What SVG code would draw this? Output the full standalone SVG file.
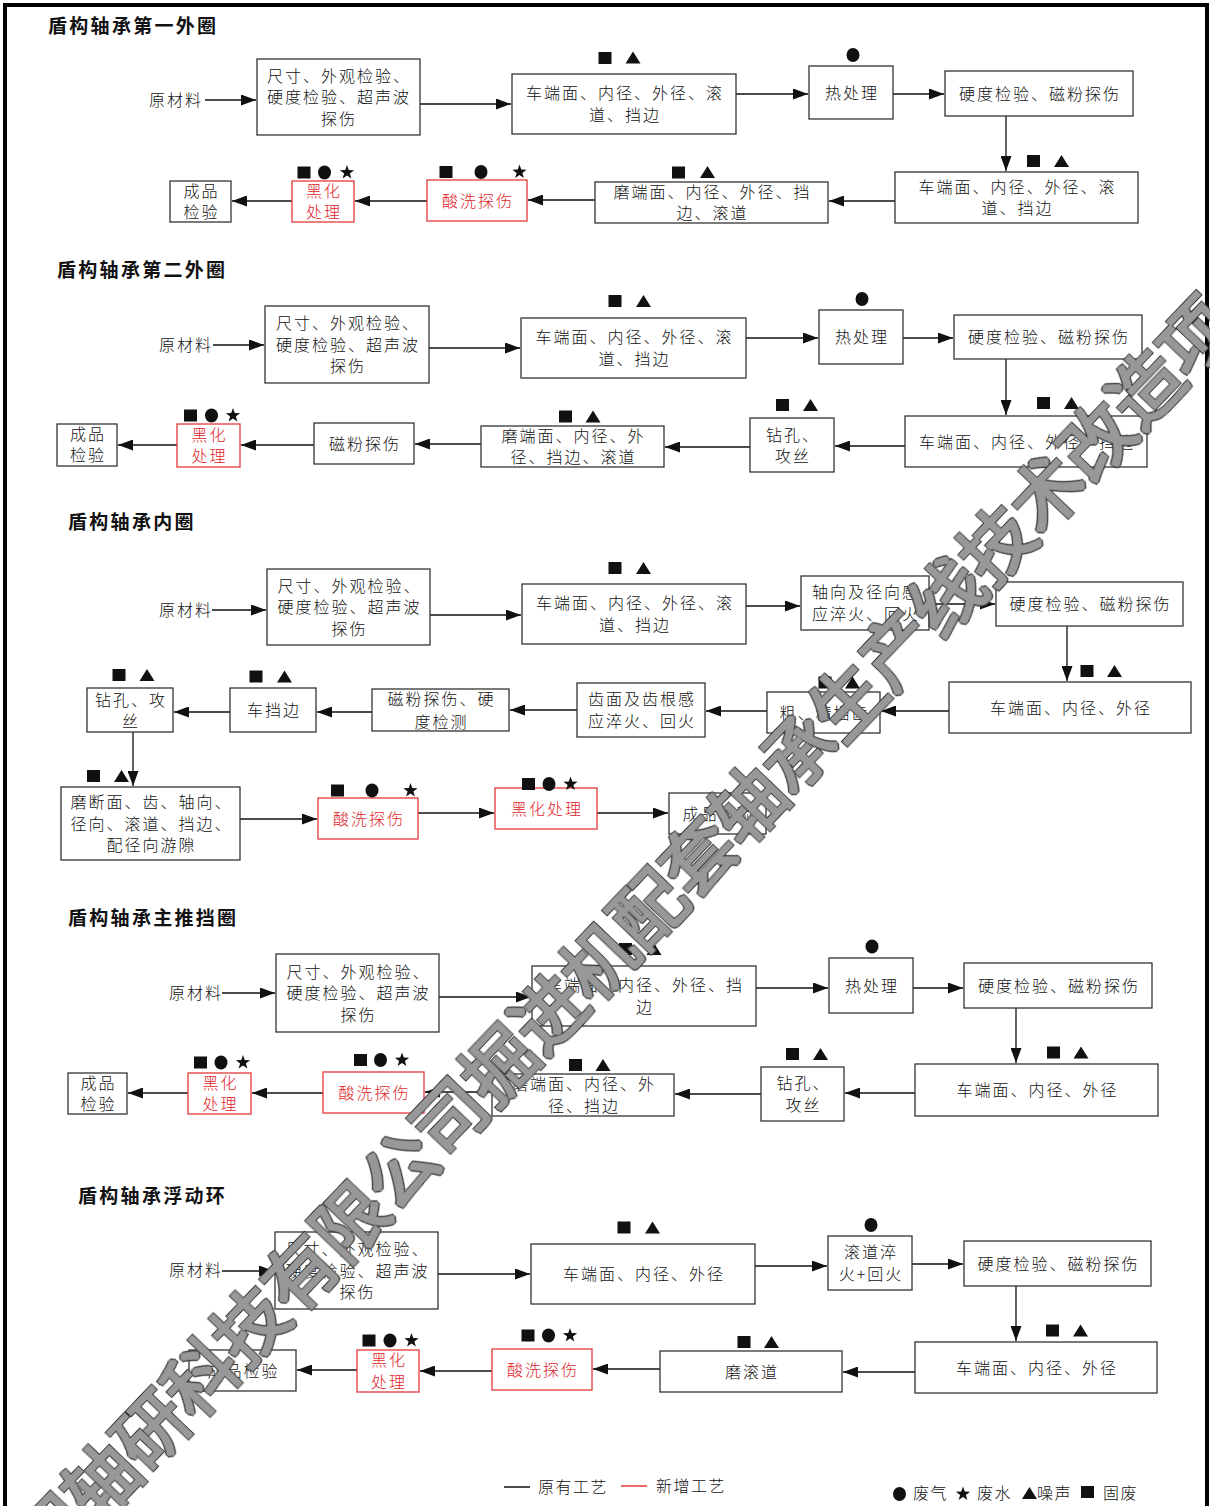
<svg xmlns="http://www.w3.org/2000/svg" width="1210" height="1506" viewBox="0 0 1210 1506">
<style>
.bx{fill:#fff;stroke:#333;stroke-width:1.3}
.rb{fill:#fff;stroke:#e23a3a;stroke-width:1.3}
.t{font-family:"Noto Sans CJK SC",sans-serif;font-size:16px;font-weight:300;letter-spacing:2px;text-anchor:middle;fill:#111}
.rt{fill:#e0252b}
.lb{font-family:"Noto Sans CJK SC",sans-serif;font-size:16px;font-weight:300;letter-spacing:1.5px;fill:#111}
.ti{font-family:"Noto Sans CJK SC",sans-serif;font-size:19px;font-weight:bold;letter-spacing:2.3px;fill:#111}
.c{stroke:#111;stroke-width:1.3;fill:none;marker-end:url(#ah)}
.wm{font-family:"Noto Sans CJK SC",sans-serif;font-size:72px;font-weight:normal;fill:#989898}
</style>
<defs>
<marker id="ah" markerUnits="userSpaceOnUse" markerWidth="15" markerHeight="11" refX="15" refY="5.5" orient="auto"><path d="M0,0 L15,5.5 L0,11 z" fill="#111"/></marker>
<rect id="sq" x="-6.5" y="-6" width="13" height="12" fill="#111"/>
<polygon id="tr" points="0,-6 7.5,6 -7.5,6" fill="#111"/>
<ellipse id="ci" cx="0" cy="0" rx="6.5" ry="7" fill="#111"/>
<polygon id="st" points="0,-7.5 1.76,-2.43 7.13,-2.32 2.85,0.93 4.41,6.07 0,3 -4.41,6.07 -2.85,0.93 -7.13,-2.32 -1.76,-2.43" fill="#111"/>
<filter id="wmf" x="-2%" y="-30%" width="104%" height="160%">
<feMorphology in="SourceAlpha" operator="dilate" radius="2.0" result="o"/>
<feFlood flood-color="#333" result="dk"/>
<feComposite in="dk" in2="o" operator="in" result="outl"/>
<feMorphology in="SourceGraphic" operator="dilate" radius="1.3" result="g"/>
<feMerge><feMergeNode in="outl"/><feMergeNode in="g"/></feMerge>
</filter>
</defs>
<rect width="1210" height="1506" fill="#fff"/>
<rect x="5" y="5" width="1202" height="1600" fill="none" stroke="#000" stroke-width="4"/>

<g id="titles">
<text class="ti" x="48" y="33">盾构轴承第一外圈</text>
<text class="ti" x="57" y="277">盾构轴承第二外圈</text>
<text class="ti" x="68" y="529">盾构轴承内圈</text>
<text class="ti" x="68" y="925">盾构轴承主推挡圈</text>
<text class="ti" x="78" y="1203">盾构轴承浮动环</text>
</g>

<g id="connectors">
<line class="c" x1="205" y1="100" x2="256" y2="100"/>
<line class="c" x1="420" y1="104" x2="511" y2="104"/>
<line class="c" x1="736" y1="94" x2="808" y2="94"/>
<line class="c" x1="893" y1="94" x2="944" y2="94"/>
<line class="c" x1="1006" y1="116" x2="1006" y2="171"/>
<line class="c" x1="895" y1="201" x2="829" y2="201"/>
<line class="c" x1="595" y1="200" x2="528" y2="200"/>
<line class="c" x1="427" y1="201" x2="355" y2="201"/>
<line class="c" x1="292" y1="201" x2="232" y2="201"/>

<line class="c" x1="213" y1="345" x2="264" y2="345"/>
<line class="c" x1="429" y1="348" x2="520" y2="348"/>
<line class="c" x1="746" y1="338" x2="818" y2="338"/>
<line class="c" x1="903" y1="338" x2="953" y2="338"/>
<line class="c" x1="1006" y1="359" x2="1006" y2="415"/>
<line class="c" x1="905" y1="446" x2="835" y2="446"/>
<line class="c" x1="750" y1="447" x2="665" y2="447"/>
<line class="c" x1="481" y1="444" x2="415" y2="444"/>
<line class="c" x1="314" y1="445" x2="241" y2="445"/>
<line class="c" x1="177" y1="445" x2="118" y2="445"/>

<line class="c" x1="212" y1="610" x2="266" y2="610"/>
<line class="c" x1="430" y1="615" x2="521" y2="615"/>
<line class="c" x1="746" y1="606" x2="800" y2="606"/>
<line class="c" x1="929" y1="604" x2="995" y2="604"/>
<line class="c" x1="1067" y1="626" x2="1067" y2="681"/>
<line class="c" x1="949" y1="711" x2="881" y2="711"/>
<line class="c" x1="767" y1="711" x2="706" y2="711"/>
<line class="c" x1="577" y1="710" x2="510" y2="710"/>
<line class="c" x1="372" y1="712" x2="317" y2="712"/>
<line class="c" x1="230" y1="712" x2="174" y2="712"/>
<line class="c" x1="133" y1="732" x2="133" y2="786"/>
<line class="c" x1="240" y1="819" x2="317" y2="819"/>
<line class="c" x1="418" y1="813" x2="494" y2="813"/>
<line class="c" x1="597" y1="813" x2="668" y2="813"/>

<line class="c" x1="222" y1="993" x2="275" y2="993"/>
<line class="c" x1="439" y1="997" x2="531" y2="997"/>
<line class="c" x1="756" y1="988" x2="828" y2="988"/>
<line class="c" x1="913" y1="988" x2="963" y2="988"/>
<line class="c" x1="1016" y1="1008" x2="1016" y2="1063"/>
<line class="c" x1="915" y1="1093" x2="845" y2="1093"/>
<line class="c" x1="761" y1="1094" x2="675" y2="1094"/>
<line class="c" x1="492" y1="1092" x2="425" y2="1092"/>
<line class="c" x1="323" y1="1093" x2="252" y2="1093"/>
<line class="c" x1="188" y1="1093" x2="128" y2="1093"/>

<line class="c" x1="222" y1="1271" x2="274" y2="1271"/>
<line class="c" x1="438" y1="1274" x2="530" y2="1274"/>
<line class="c" x1="755" y1="1266" x2="827" y2="1266"/>
<line class="c" x1="912" y1="1264" x2="963" y2="1264"/>
<line class="c" x1="1016" y1="1286" x2="1016" y2="1341"/>
<line class="c" x1="915" y1="1372" x2="843" y2="1372"/>
<line class="c" x1="660" y1="1369" x2="593" y2="1369"/>
<line class="c" x1="492" y1="1371" x2="420" y2="1371"/>
<line class="c" x1="357" y1="1370" x2="297" y2="1370"/>
</g>

<!-- Section 1 -->
<g id="s1-raw"><text class="t" x="176" y="106">原材料</text></g>
<g id="s1-b1"><rect class="bx" x="257" y="59" width="163" height="76"/><text class="t" x="339" y="81.5">尺寸、外观检验、</text><text class="t" x="339" y="103">硬度检验、超声波</text><text class="t" x="339" y="124.5">探伤</text></g>
<g id="s1-b2"><rect class="bx" x="512" y="74" width="224" height="60"/><text class="t" x="625" y="99">车端面、内径、外径、滚</text><text class="t" x="625" y="121">道、挡边</text>
<use href="#sq" x="605" y="58"/><use href="#tr" x="633" y="57.5"/></g>
<g id="s1-b3"><rect class="bx" x="809" y="66" width="84" height="53"/><text class="t" x="852" y="98.5">热处理</text><use href="#ci" x="853" y="55"/></g>
<g id="s1-b4"><rect class="bx" x="945" y="71" width="188" height="45"/><text class="t" x="1040" y="99.5">硬度检验、磁粉探伤</text></g>
<g id="s1-b5"><rect class="bx" x="895" y="172" width="243" height="51"/><text class="t" x="1017.5" y="193">车端面、内径、外径、滚</text><text class="t" x="1017.5" y="214">道、挡边</text>
<use href="#sq" x="1033.5" y="161"/><use href="#tr" x="1061.5" y="161"/></g>
<g id="s1-b6"><rect class="bx" x="595" y="182" width="233" height="41"/><text class="t" x="712.5" y="198">磨端面、内径、外径、挡</text><text class="t" x="712.5" y="219">边、滚道</text>
<use href="#sq" x="678.5" y="172.5"/><use href="#tr" x="707.5" y="172"/></g>
<g id="s1-b7"><rect class="rb" x="427" y="180" width="100" height="41"/><text class="t rt" x="478" y="206.5">酸洗探伤</text>
<use href="#sq" x="446" y="172"/><use href="#ci" x="481" y="172"/><use href="#st" x="519.5" y="172"/></g>
<g id="s1-b8"><rect class="rb" x="292" y="181" width="62" height="41"/><text class="t rt" x="324" y="197">黑化</text><text class="t rt" x="324" y="218">处理</text>
<use href="#sq" x="304" y="172.5"/><use href="#ci" x="324.5" y="172.5"/><use href="#st" x="347" y="172.5"/></g>
<g id="s1-b9"><rect class="bx" x="170" y="181" width="61" height="41"/><text class="t" x="201.5" y="197">成品</text><text class="t" x="201.5" y="218">检验</text></g>

<!-- Section 2 -->
<g id="s2-raw"><text class="t" x="186" y="351">原材料</text></g>
<g id="s2-b1"><rect class="bx" x="265" y="306" width="164" height="77"/><text class="t" x="348" y="329">尺寸、外观检验、</text><text class="t" x="348" y="350.5">硬度检验、超声波</text><text class="t" x="348" y="372">探伤</text></g>
<g id="s2-b2"><rect class="bx" x="521" y="318" width="225" height="60"/><text class="t" x="634.5" y="343">车端面、内径、外径、滚</text><text class="t" x="634.5" y="365">道、挡边</text>
<use href="#sq" x="615" y="301"/><use href="#tr" x="643.5" y="301"/></g>
<g id="s2-b3"><rect class="bx" x="819" y="310" width="84" height="54"/><text class="t" x="862" y="343">热处理</text><use href="#ci" x="862" y="299"/></g>
<g id="s2-b4"><rect class="bx" x="954" y="315" width="188" height="44"/><text class="t" x="1049" y="343">硬度检验、磁粉探伤</text></g>
<g id="s2-b5"><rect class="bx" x="905" y="416" width="242" height="51"/><text class="t" x="1027" y="447.5">车端面、内径、外径、挡边</text>
<use href="#sq" x="1043.5" y="403"/><use href="#tr" x="1071.5" y="403"/></g>
<g id="s2-b6"><rect class="bx" x="750" y="418" width="84" height="54"/><text class="t" x="793" y="441">钻孔、</text><text class="t" x="793" y="462">攻丝</text>
<use href="#sq" x="782.5" y="405"/><use href="#tr" x="810.5" y="405"/></g>
<g id="s2-b7"><rect class="bx" x="481" y="426" width="183" height="41"/><text class="t" x="573.5" y="442">磨端面、内径、外</text><text class="t" x="573.5" y="463">径、挡边、滚道</text>
<use href="#sq" x="565.5" y="416.5"/><use href="#tr" x="593" y="416.5"/></g>
<g id="s2-b8"><rect class="bx" x="314" y="423" width="100" height="41"/><text class="t" x="365" y="449.5">磁粉探伤</text></g>
<g id="s2-b9"><rect class="rb" x="177" y="424" width="63" height="43"/><text class="t rt" x="209.5" y="441">黑化</text><text class="t rt" x="209.5" y="462">处理</text>
<use href="#sq" x="190.5" y="415.5"/><use href="#ci" x="211.5" y="415.5"/><use href="#st" x="233" y="415.5"/></g>
<g id="s2-b10"><rect class="bx" x="57" y="424" width="60" height="42"/><text class="t" x="88" y="440">成品</text><text class="t" x="88" y="461">检验</text></g>

<!-- Section 3 -->
<g id="s3-raw"><text class="t" x="186" y="616">原材料</text></g>
<g id="s3-b1"><rect class="bx" x="267" y="569" width="163" height="76"/><text class="t" x="349.5" y="591.5">尺寸、外观检验、</text><text class="t" x="349.5" y="613">硬度检验、超声波</text><text class="t" x="349.5" y="634.5">探伤</text></g>
<g id="s3-b2"><rect class="bx" x="522" y="584" width="224" height="60"/><text class="t" x="635" y="609">车端面、内径、外径、滚</text><text class="t" x="635" y="631">道、挡边</text>
<use href="#sq" x="615" y="568"/><use href="#tr" x="643.5" y="568"/></g>
<g id="s3-b3"><rect class="bx" x="801" y="576" width="128" height="54"/><text class="t" x="866" y="598">轴向及径向感</text><text class="t" x="866" y="620">应淬火、回火</text></g>
<g id="s3-b4"><rect class="bx" x="996" y="582" width="187" height="44"/><text class="t" x="1090.5" y="610">硬度检验、磁粉探伤</text></g>
<g id="s3-b5"><rect class="bx" x="949" y="682" width="242" height="51"/><text class="t" x="1071" y="713.5">车端面、内径、外径</text>
<use href="#sq" x="1087" y="671"/><use href="#tr" x="1114.5" y="671"/></g>
<g id="s3-b6"><rect class="bx" x="767" y="692" width="113" height="41"/><text class="t" x="824.5" y="718.5">粗、精插齿</text>
<use href="#sq" x="825" y="682.5"/><use href="#tr" x="852.5" y="682.5"/></g>
<g id="s3-b7"><rect class="bx" x="577" y="683" width="128" height="54"/><text class="t" x="642" y="705">齿面及齿根感</text><text class="t" x="642" y="727">应淬火、回火</text></g>
<g id="s3-b8"><rect class="bx" x="372" y="689" width="137" height="42"/><text class="t" x="441.5" y="704.5">磁粉探伤、硬</text><text class="t" x="441.5" y="727.5">度检测</text></g>
<g id="s3-b9"><rect class="bx" x="230" y="688" width="86" height="44"/><text class="t" x="274" y="716">车挡边</text>
<use href="#sq" x="256" y="676.5"/><use href="#tr" x="284.5" y="676.5"/></g>
<g id="s3-b10"><rect class="bx" x="87" y="688" width="86" height="44"/><text class="t" x="131" y="706">钻孔、攻</text><text class="t" x="131" y="727">丝</text>
<use href="#sq" x="119" y="675"/><use href="#tr" x="147" y="675"/></g>
<g id="s3-b11"><rect class="bx" x="61" y="787" width="179" height="73"/><text class="t" x="151.5" y="808">磨断面、齿、轴向、</text><text class="t" x="151.5" y="829.5">径向、滚道、挡边、</text><text class="t" x="151.5" y="851">配径向游隙</text>
<use href="#sq" x="93.5" y="776"/><use href="#tr" x="121.5" y="776"/></g>
<g id="s3-b12"><rect class="rb" x="318" y="798" width="100" height="41"/><text class="t rt" x="369" y="824.5">酸洗探伤</text>
<use href="#sq" x="337.5" y="790.5"/><use href="#ci" x="372" y="790.5"/><use href="#st" x="410.5" y="790.5"/></g>
<g id="s3-b13"><rect class="rb" x="495" y="788" width="102" height="41"/><text class="t rt" x="547" y="814.5">黑化处理</text>
<use href="#sq" x="528.5" y="784"/><use href="#ci" x="549" y="784"/><use href="#st" x="570.5" y="784"/></g>
<g id="s3-b14"><rect class="bx" x="669" y="793" width="97" height="41"/><text class="t" x="718.5" y="819.5">成品检验</text></g>

<!-- Section 4 -->
<g id="s4-raw"><text class="t" x="196" y="999">原材料</text></g>
<g id="s4-b1"><rect class="bx" x="276" y="954" width="163" height="78"/><text class="t" x="358.5" y="977.5">尺寸、外观检验、</text><text class="t" x="358.5" y="999">硬度检验、超声波</text><text class="t" x="358.5" y="1020.5">探伤</text></g>
<g id="s4-b2"><rect class="bx" x="532" y="966" width="224" height="60"/><text class="t" x="645" y="991">车端面、内径、外径、挡</text><text class="t" x="645" y="1013">边</text>
<use href="#sq" x="625.5" y="949"/><use href="#tr" x="654" y="949"/></g>
<g id="s4-b3"><rect class="bx" x="829" y="958" width="84" height="55"/><text class="t" x="872" y="991.5">热处理</text><use href="#ci" x="872" y="946.5"/></g>
<g id="s4-b4"><rect class="bx" x="964" y="963" width="188" height="45"/><text class="t" x="1059" y="991.5">硬度检验、磁粉探伤</text></g>
<g id="s4-b5"><rect class="bx" x="915" y="1064" width="243" height="52"/><text class="t" x="1037.5" y="1096">车端面、内径、外径</text>
<use href="#sq" x="1053.5" y="1052.5"/><use href="#tr" x="1081" y="1052.5"/></g>
<g id="s4-b6"><rect class="bx" x="761" y="1067" width="83" height="54"/><text class="t" x="803.5" y="1089">钻孔、</text><text class="t" x="803.5" y="1111">攻丝</text>
<use href="#sq" x="792.5" y="1054"/><use href="#tr" x="820.5" y="1054"/></g>
<g id="s4-b7"><rect class="bx" x="492" y="1074" width="182" height="42"/><text class="t" x="584" y="1090">磨端面、内径、外</text><text class="t" x="584" y="1112">径、挡边</text>
<use href="#sq" x="575.5" y="1065"/><use href="#tr" x="603" y="1065"/></g>
<g id="s4-b8"><rect class="rb" x="323" y="1072" width="101" height="41"/><text class="t rt" x="374.5" y="1098.5">酸洗探伤</text>
<use href="#sq" x="360.5" y="1060"/><use href="#ci" x="380.5" y="1060"/><use href="#st" x="402" y="1060"/></g>
<g id="s4-b9"><rect class="rb" x="188" y="1073" width="63" height="41"/><text class="t rt" x="220.5" y="1089">黑化</text><text class="t rt" x="220.5" y="1110">处理</text>
<use href="#sq" x="200.5" y="1062.5"/><use href="#ci" x="221" y="1062.5"/><use href="#st" x="243" y="1062.5"/></g>
<g id="s4-b10"><rect class="bx" x="68" y="1073" width="59" height="41"/><text class="t" x="98.5" y="1089">成品</text><text class="t" x="98.5" y="1110">检验</text></g>

<!-- Section 5 -->
<g id="s5-raw"><text class="t" x="196" y="1276">原材料</text></g>
<g id="s5-b1"><rect class="bx" x="275" y="1232" width="163" height="77"/><text class="t" x="357.5" y="1255">尺寸、外观检验、</text><text class="t" x="357.5" y="1276.5">硬度检验、超声波</text><text class="t" x="357.5" y="1298">探伤</text></g>
<g id="s5-b2"><rect class="bx" x="531" y="1244" width="224" height="60"/><text class="t" x="644" y="1280">车端面、内径、外径</text>
<use href="#sq" x="624" y="1227.5"/><use href="#tr" x="652.5" y="1227.5"/></g>
<g id="s5-b3"><rect class="bx" x="828" y="1236" width="84" height="54"/><text class="t" x="871" y="1258">滚道淬</text><text class="t" x="871" y="1280">火+回火</text><use href="#ci" x="871" y="1225"/></g>
<g id="s5-b4"><rect class="bx" x="964" y="1241" width="187" height="45"/><text class="t" x="1058.5" y="1269.5">硬度检验、磁粉探伤</text></g>
<g id="s5-b5"><rect class="bx" x="915" y="1342" width="242" height="51"/><text class="t" x="1037" y="1373.5">车端面、内径、外径</text>
<use href="#sq" x="1052.5" y="1330.5"/><use href="#tr" x="1080.5" y="1330.5"/></g>
<g id="s5-b6"><rect class="bx" x="660" y="1351" width="182" height="41"/><text class="t" x="752" y="1377.5">磨滚道</text>
<use href="#sq" x="744" y="1342"/><use href="#tr" x="771.5" y="1342"/></g>
<g id="s5-b7"><rect class="rb" x="492" y="1349" width="100" height="41"/><text class="t rt" x="543" y="1375.5">酸洗探伤</text>
<use href="#sq" x="528" y="1335.5"/><use href="#ci" x="548.5" y="1335.5"/><use href="#st" x="570" y="1335.5"/></g>
<g id="s5-b8"><rect class="rb" x="357" y="1350" width="62" height="42"/><text class="t rt" x="389" y="1366">黑化</text><text class="t rt" x="389" y="1388">处理</text>
<use href="#sq" x="369" y="1340.5"/><use href="#ci" x="390" y="1340.5"/><use href="#st" x="411.5" y="1340.5"/></g>
<g id="s5-b9"><rect class="bx" x="189" y="1350" width="107" height="41"/><text class="t" x="243.5" y="1376.5">成品检验</text></g>

<g id="legend">
<line x1="504" y1="1487" x2="530" y2="1487" stroke="#111" stroke-width="1.5"/>
<text class="lb" x="538" y="1493">原有工艺</text>
<line x1="621" y1="1486" x2="647" y2="1486" stroke="#e23a3a" stroke-width="1.5"/>
<text class="lb" x="656" y="1492">新增工艺</text>
<use href="#ci" x="899.5" y="1494"/><text class="lb" x="913" y="1499">废气</text>
<use href="#st" x="963" y="1494"/><text class="lb" x="977" y="1499">废水</text>
<use href="#tr" x="1029.5" y="1493"/><text class="lb" x="1037" y="1499">噪声</text>
<use href="#sq" x="1087.5" y="1492"/><text class="lb" x="1103" y="1499">固废</text>
</g>

<g id="watermark" transform="translate(250,1325) rotate(-46.3)">
<text class="wm" x="-324" y="27.4" filter="url(#wmf)">阳轴研科技有限公司掘进机配套轴承生产线技术改造项</text>
</g>
</svg>
